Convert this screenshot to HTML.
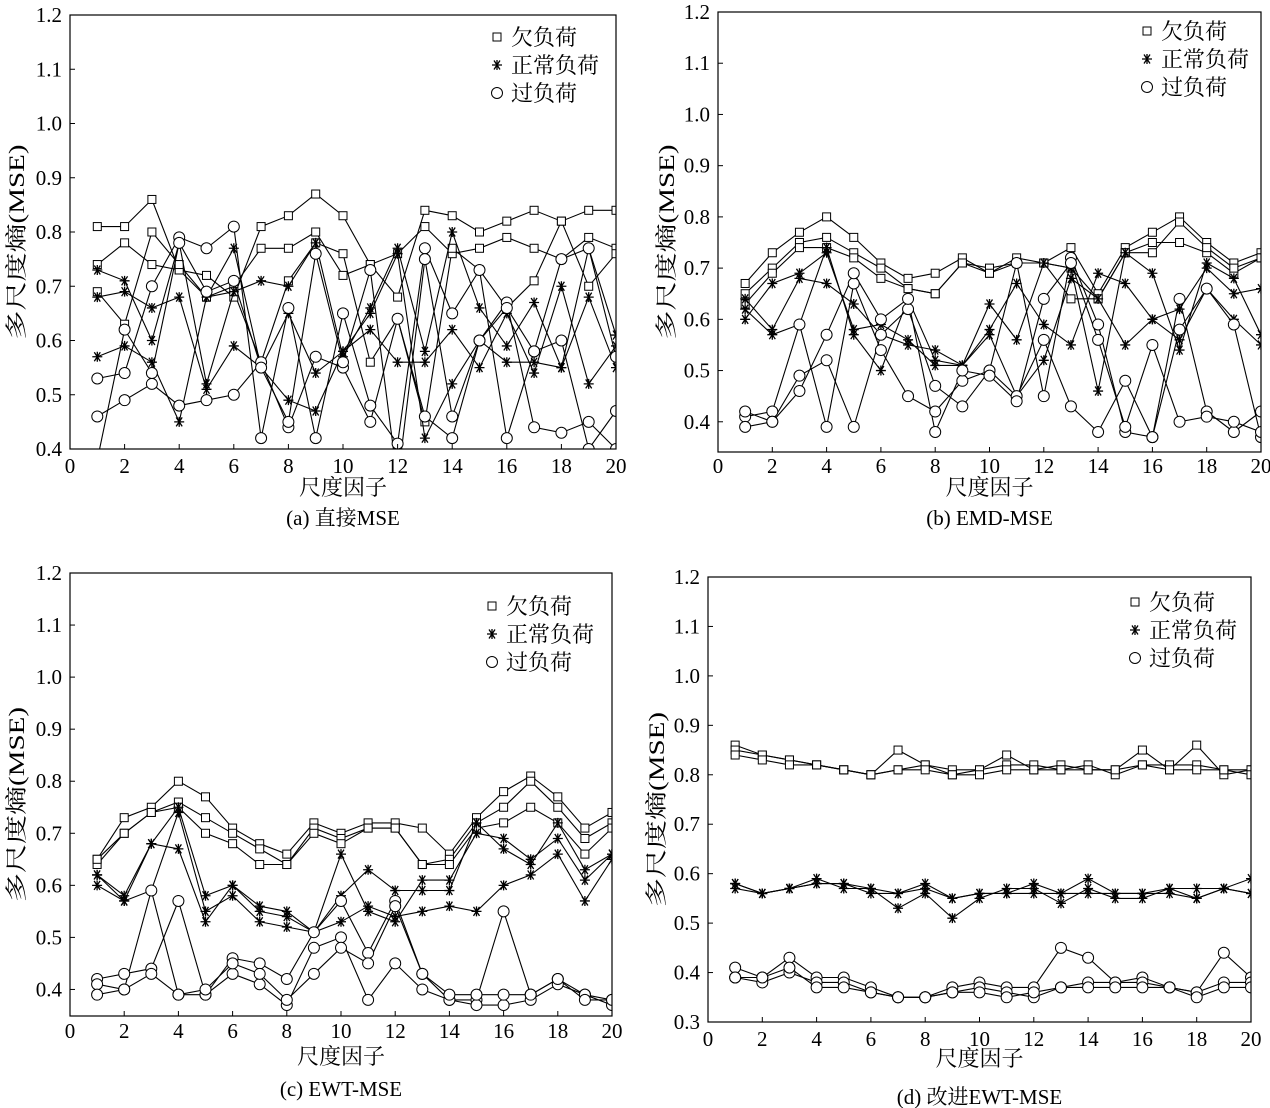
<!DOCTYPE html>
<html><head><meta charset="utf-8"><style>
body{margin:0;background:#fff}
svg{display:block}
text{font-family:"Liberation Serif","Noto Serif CJK SC",serif;fill:#000}
</style></head><body>
<svg id="c" width="1270" height="1108" viewBox="0 0 1270 1108" xmlns="http://www.w3.org/2000/svg"></svg>
<script>
const scales = [1,2,3,4,5,6,7,8,9,10,11,12,13,14,15,16,17,18,19,20];
const seriesNames = ["欠负荷","正常负荷","过负荷"];
const xTicks = [0,2,4,6,8,10,12,14,16,18,20];
const yTicksA = [0.4,0.5,0.6,0.7,0.8,0.9,1.0,1.1,1.2];
const yTicksD = [0.3,0.4,0.5,0.6,0.7,0.8,0.9,1.0,1.1,1.2];
const captions = ["(a) 直接MSE","(b) EMD-MSE","(c) EWT-MSE","(d) 改进EWT-MSE"];

const aUnder = [
[0.81,0.81,0.86,0.73,0.72,0.68,0.81,0.83,0.87,0.83,0.74,0.68,0.84,0.83,0.80,0.82,0.84,0.82,0.84,0.84],
[0.74,0.78,0.74,0.73,0.68,0.70,0.77,0.77,0.80,0.72,0.74,0.76,0.81,0.76,0.77,0.79,0.77,0.75,0.79,0.77],
[0.69,0.63,0.80,0.74,0.68,0.69,0.56,0.71,0.78,0.76,0.56,0.64,0.45,0.77,0.73,0.66,0.71,0.82,0.70,0.76]];
const aNormal = [
[0.73,0.71,0.60,0.78,0.52,0.69,0.71,0.70,0.78,0.57,0.66,0.77,0.58,0.80,0.66,0.59,0.67,0.55,0.77,0.61],
[0.57,0.59,0.56,0.45,0.68,0.77,0.55,0.49,0.47,0.58,0.62,0.56,0.56,0.62,0.55,0.65,0.54,0.70,0.52,0.59],
[0.68,0.69,0.66,0.68,0.51,0.59,0.55,0.65,0.54,0.58,0.65,0.76,0.42,0.52,0.60,0.56,0.56,0.55,0.68,0.55]];
const aOver = [
[0.53,0.54,0.70,0.79,0.77,0.81,0.42,0.66,0.42,0.65,0.48,0.41,0.77,0.65,0.73,0.42,0.58,0.60,0.40,0.47],
[0.46,0.49,0.52,0.48,0.49,0.50,0.56,0.44,0.57,0.55,0.45,0.64,0.46,0.42,0.60,0.67,0.44,0.43,0.45,0.40],
[0.38,0.62,0.54,0.78,0.69,0.71,0.55,0.45,0.76,0.56,0.73,0.34,0.75,0.46,0.60,0.66,0.58,0.75,0.77,0.57]];

const bUnder = [
[0.67,0.73,0.77,0.80,0.76,0.71,0.68,0.69,0.72,0.69,0.72,0.71,0.74,0.65,0.74,0.77,0.80,0.75,0.71,0.73],
[0.65,0.70,0.75,0.76,0.73,0.70,0.66,0.65,0.71,0.70,0.71,0.71,0.70,0.64,0.73,0.75,0.75,0.73,0.69,0.72],
[0.63,0.69,0.74,0.74,0.72,0.68,0.66,0.65,0.71,0.69,0.71,0.71,0.64,0.64,0.73,0.73,0.79,0.74,0.70,0.72]];
const bNormal = [
[0.64,0.58,0.68,0.67,0.63,0.57,0.55,0.54,0.51,0.63,0.56,0.71,0.70,0.46,0.73,0.69,0.54,0.71,0.68,0.57],
[0.60,0.67,0.69,0.73,0.58,0.59,0.56,0.51,0.51,0.58,0.67,0.59,0.55,0.69,0.67,0.60,0.62,0.70,0.65,0.66],
[0.62,0.57,0.59,0.74,0.57,0.50,0.64,0.52,0.51,0.57,0.45,0.52,0.68,0.64,0.55,0.60,0.56,0.66,0.60,0.55]];
const bOver = [
[0.41,0.42,0.59,0.39,0.67,0.54,0.45,0.42,0.48,0.50,0.45,0.56,0.43,0.38,0.48,0.37,0.64,0.42,0.38,0.42],
[0.39,0.40,0.49,0.52,0.39,0.57,0.62,0.47,0.43,0.50,0.71,0.45,0.72,0.59,0.38,0.37,0.58,0.66,0.59,0.37],
[0.42,0.40,0.46,0.57,0.69,0.60,0.64,0.38,0.50,0.49,0.44,0.64,0.71,0.56,0.39,0.55,0.40,0.41,0.40,0.38]];

const cUnder = [
[0.65,0.73,0.75,0.80,0.77,0.71,0.68,0.66,0.72,0.70,0.72,0.72,0.71,0.66,0.73,0.78,0.81,0.77,0.71,0.74],
[0.64,0.70,0.74,0.76,0.73,0.70,0.67,0.64,0.71,0.69,0.71,0.71,0.64,0.65,0.72,0.75,0.80,0.75,0.69,0.72],
[0.65,0.70,0.74,0.75,0.70,0.68,0.64,0.64,0.70,0.68,0.71,0.71,0.64,0.64,0.71,0.72,0.75,0.72,0.66,0.71]];
const cNormal = [
[0.62,0.58,0.68,0.75,0.58,0.60,0.56,0.55,0.51,0.66,0.55,0.53,0.61,0.61,0.70,0.69,0.65,0.69,0.61,0.66],
[0.60,0.57,0.59,0.74,0.55,0.58,0.53,0.52,0.51,0.53,0.56,0.54,0.55,0.56,0.55,0.60,0.62,0.66,0.57,0.65],
[0.62,0.57,0.68,0.67,0.53,0.60,0.55,0.54,0.51,0.58,0.63,0.59,0.59,0.59,0.72,0.67,0.64,0.72,0.63,0.66]];
const cOver = [
[0.42,0.43,0.44,0.57,0.39,0.46,0.45,0.42,0.51,0.57,0.47,0.57,0.43,0.38,0.38,0.55,0.39,0.42,0.39,0.38],
[0.41,0.40,0.43,0.39,0.39,0.43,0.41,0.37,0.48,0.50,0.38,0.45,0.40,0.38,0.37,0.37,0.38,0.41,0.39,0.37],
[0.39,0.40,0.59,0.39,0.40,0.45,0.43,0.38,0.43,0.48,0.45,0.56,0.43,0.39,0.39,0.39,0.39,0.42,0.38,0.38]];

const dUnder = [
[0.86,0.84,0.83,0.82,0.81,0.80,0.85,0.82,0.81,0.81,0.84,0.81,0.82,0.81,0.81,0.85,0.81,0.86,0.80,0.81],
[0.85,0.84,0.83,0.82,0.81,0.80,0.81,0.82,0.80,0.81,0.82,0.82,0.81,0.82,0.80,0.82,0.82,0.82,0.81,0.81],
[0.84,0.83,0.82,0.82,0.81,0.80,0.81,0.81,0.80,0.80,0.81,0.81,0.81,0.81,0.81,0.82,0.81,0.81,0.81,0.80]];
const dNormal = [
[0.58,0.56,0.57,0.58,0.58,0.57,0.56,0.57,0.55,0.56,0.56,0.58,0.56,0.59,0.56,0.56,0.57,0.57,0.57,0.59],
[0.57,0.56,0.57,0.59,0.57,0.57,0.53,0.56,0.51,0.55,0.57,0.57,0.54,0.57,0.55,0.55,0.57,0.55,0.57,0.56],
[0.58,0.56,0.57,0.58,0.58,0.56,0.56,0.58,0.55,0.56,0.56,0.56,0.56,0.56,0.56,0.56,0.56,0.55,0.57,0.56]];
const dOver = [
[0.41,0.39,0.43,0.39,0.39,0.37,0.35,0.35,0.37,0.38,0.37,0.37,0.45,0.43,0.38,0.39,0.37,0.36,0.44,0.39],
[0.39,0.38,0.40,0.38,0.38,0.36,0.35,0.35,0.36,0.37,0.36,0.35,0.37,0.38,0.38,0.38,0.37,0.36,0.38,0.38],
[0.39,0.39,0.41,0.37,0.37,0.36,0.35,0.35,0.36,0.36,0.35,0.36,0.37,0.37,0.37,0.37,0.37,0.35,0.37,0.37]];

const NS="http://www.w3.org/2000/svg";
const svg=document.getElementById('c');
function mk(tag,attrs,parent){const e=document.createElementNS(NS,tag);for(const k in attrs)e.setAttribute(k,attrs[k]);(parent||svg).appendChild(e);return e;}

const panels=[
 {id:'a',x0:70,x1:616,yTop:15,yBot:449,ymin:0.4,ymax:1.2,yt:yTicksA,data:[aUnder,aNormal,aOver],leg:[497,37,28],ytx:15,tkY:473,xtY:495,capY:525},
 {id:'b',x0:718,x1:1261,yTop:12,yBot:452,ymin:0.341,ymax:1.2,yt:yTicksA,data:[bUnder,bNormal,bOver],leg:[1147,31,28],ytx:665,tkY:473,xtY:495,capY:525},
 {id:'c',x0:70,x1:612,yTop:573,yBot:1016,ymin:0.349,ymax:1.2,yt:yTicksA,data:[cUnder,cNormal,cOver],leg:[492,606,28],ytx:15,tkY:1038,xtY:1064,capY:1096},
 {id:'d',x0:708,x1:1251,yTop:577,yBot:1022,ymin:0.3,ymax:1.2,yt:yTicksD,data:[dUnder,dNormal,dOver],leg:[1135,602,28],ytx:655,tkY:1046,xtY:1066,capY:1104}
];

function marker(g,kind,x,y){
  let m;
  if(kind===0){m=mk('rect',{x:x-4,y:y-4,width:8,height:8,fill:'#fff',stroke:'#000','stroke-width':1},g);}
  else if(kind===1){m=mk('path',{d:`M${x-5},${y}H${x+5}M${x-3},${y-4.5}L${x+3},${y+4.5}M${x+3},${y-4.5}L${x-3},${y+4.5}M${x},${y-5}V${y+5}`,stroke:'#000','stroke-width':1.3,fill:'none'},g);}
  else {m=mk('circle',{cx:x,cy:y,r:5.5,fill:'#fff',stroke:'#000','stroke-width':1},g);}
  return m;
}

panels.forEach((p,pi)=>{
  const g=mk('g',{});
  
  
  const X=v=>p.x0+(v-0)/20*(p.x1-p.x0);
  const Y=v=>p.yBot-(v-p.ymin)/(p.ymax-p.ymin)*(p.yBot-p.yTop);
  const clipId='clip'+p.id;
  const cp=mk('clipPath',{id:clipId},g);mk('rect',{x:p.x0,y:p.yTop-10,width:p.x1-p.x0,height:p.yBot-p.yTop+10},cp);
  p.data.forEach((lines,si)=>{
    const sg=mk('g',{'clip-path':`url(#${clipId})`},g);
    
    
    lines.forEach((vals,li)=>{
      const d=vals.map((v,i)=>(i?'L':'M')+X(scales[i]).toFixed(1)+','+Y(v).toFixed(1)).join('');
      const pl=mk('path',{d:d,fill:'none',stroke:'#000','stroke-width':1.1},sg);
      
      
    });
    lines.forEach((vals,li)=>{
      vals.forEach((v,i)=>{
        const m=marker(sg,si,X(scales[i]),Y(v));
        
        
      });
    });
  });
  const fr=mk('rect',{x:p.x0,y:p.yTop,width:p.x1-p.x0,height:p.yBot-p.yTop,fill:'none',stroke:'#000','stroke-width':1.2},g);
  
  
  xTicks.forEach(t=>{
    mk('line',{x1:X(t),x2:X(t),y1:p.yBot,y2:p.yBot-5,stroke:'#000'},g);
    const tx=mk('text',{x:X(t),y:p.tkY,'text-anchor':'middle','font-size':21},g);
    tx.textContent=t;
    
    
  });
  p.yt.forEach(t=>{
    mk('line',{x1:p.x0,x2:p.x0+5,y1:Y(t),y2:Y(t),stroke:'#000'},g);
    const tx=mk('text',{x:p.x0-8,y:Y(t)+7,'text-anchor':'end','font-size':21},g);
    tx.textContent=t.toFixed(1);
    
    
  });
  const xt=mk('text',{x:(p.x0+p.x1)/2,y:p.xtY,'text-anchor':'middle','font-size':22},g);
  xt.textContent='尺度因子';
  
  
  const cy=(p.yTop+p.yBot)/2+10;
  const bx=p.ytx+9;
  const yt=mk('text',{x:bx,y:cy,'text-anchor':'middle','font-size':22,textLength:195,lengthAdjust:'spacingAndGlyphs',transform:`rotate(-90 ${bx} ${cy})`},g);
  yt.setAttribute('x',bx);
  yt.setAttribute('y',cy);
  yt.textContent='多尺度熵(MSE)';
  
  
  const cap=mk('text',{x:(p.x0+p.x1)/2,y:p.capY,'text-anchor':'middle','font-size':21},g);
  cap.textContent=captions[pi];
  
  
  const lg=mk('g',{},g);
  
  
  seriesNames.forEach((n,si)=>{
    const ly=p.leg[1]+si*p.leg[2];
    marker(lg,si,p.leg[0],ly);
    const t=mk('text',{x:p.leg[0]+14,y:ly+8,'font-size':22},lg);
    t.textContent=n;
    
    
  });
});
</script>
</body></html>
